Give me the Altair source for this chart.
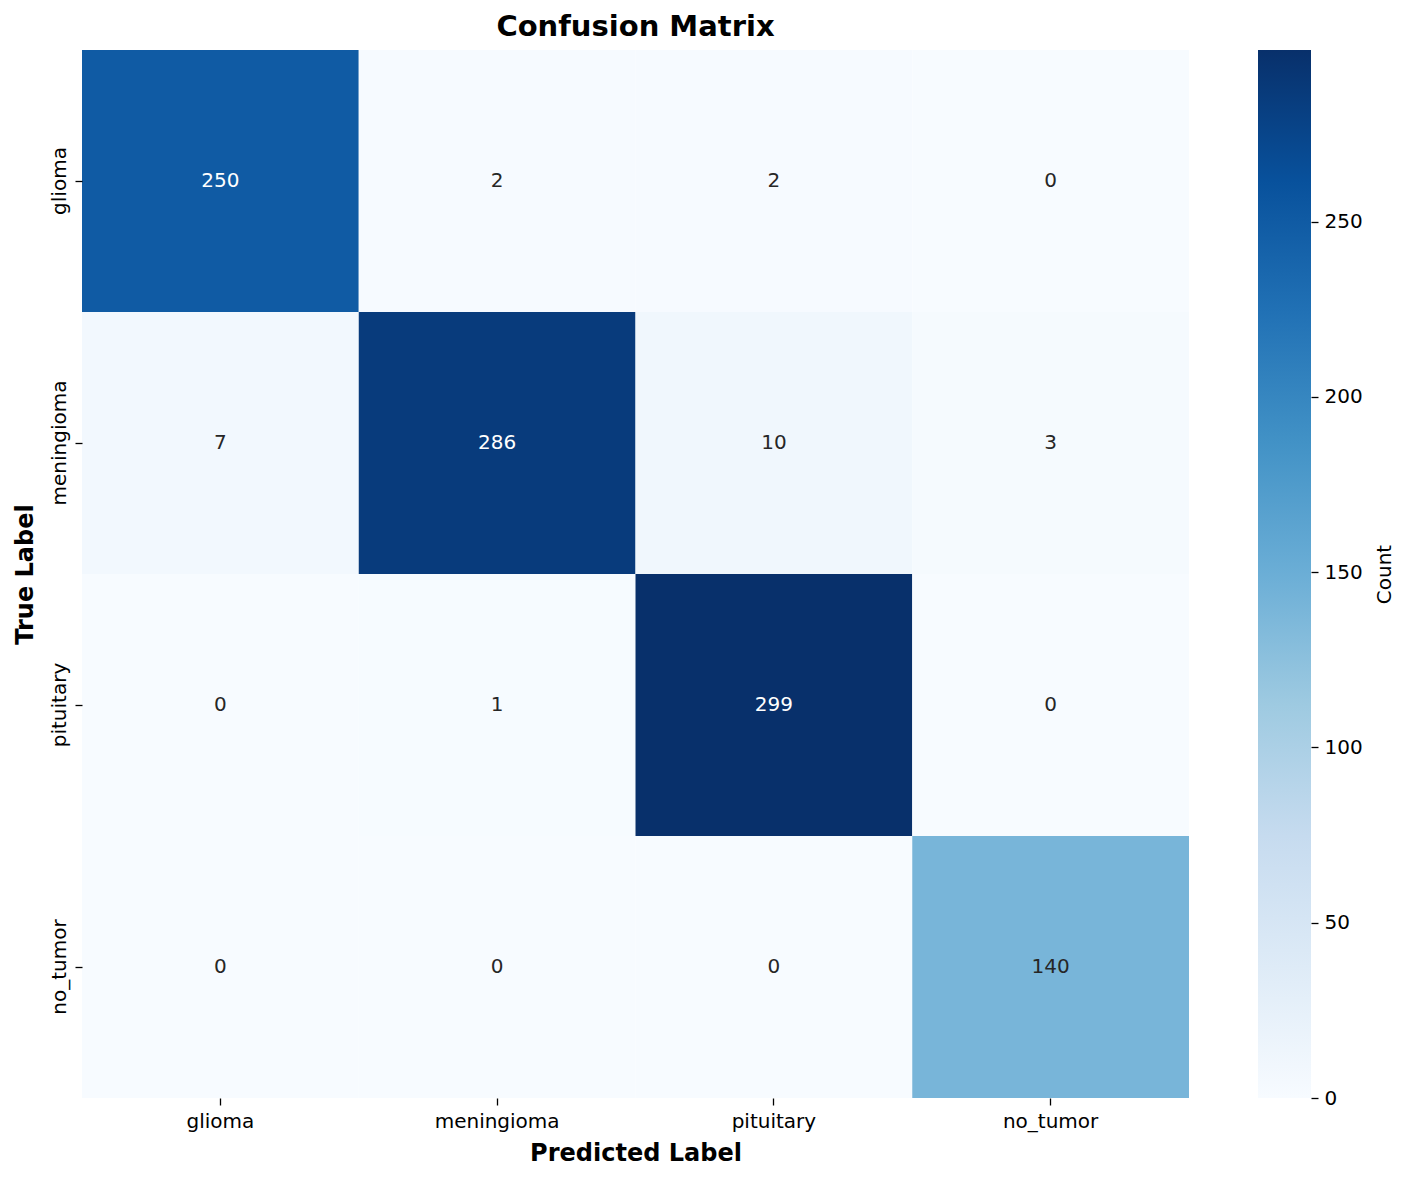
import altair as alt
import pandas as pd

classes = ["glioma", "meningioma", "pituitary", "no_tumor"]
true_labels = ["glioma"] * 4 + ["meningioma"] * 4 + ["pituitary"] * 4 + ["no_tumor"] * 4
pred_labels = classes * 4
counts = [250, 2, 2, 0,
          7, 286, 10, 3,
          0, 1, 299, 0,
          0, 0, 0, 140]
cbar_ticks = [0, 50, 100, 150, 200, 250]
vmax = 299

blues = ["#f7fbff", "#deebf7", "#c6dbef", "#9ecae1", "#6baed6",
         "#4292c6", "#2171b5", "#08519c", "#08306b"]
stops_dom = [vmax * i / 8 for i in range(9)]

df = pd.DataFrame({"True": true_labels, "Pred": pred_labels, "Count": counts})

FONT = "DejaVu Sans"
W, H = 1107, 1048

base = alt.Chart(df).encode(
    x=alt.X("Pred:N", sort=classes, title="Predicted Label",
            scale=alt.Scale(paddingInner=0, paddingOuter=0),
            axis=alt.Axis(labelAngle=0, domain=False, tickSize=7, tickWidth=1.3,
                          tickColor="#000000", labelColor="#000000", labelFontSize=20,
                          labelPadding=6, titleFontSize=24, titleFontWeight="bold",
                          titlePadding=10, titleColor="#000000")),
    y=alt.Y("True:N", sort=classes, title="True Label",
            scale=alt.Scale(paddingInner=0, paddingOuter=0),
            axis=alt.Axis(labelAngle=270, domain=False, tickSize=7, tickWidth=1.3,
                          tickColor="#000000", labelColor="#000000", labelFontSize=20,
                          labelPadding=6, titleFontSize=24, titleFontWeight="bold",
                          titlePadding=12, titleColor="#000000")),
)

rects = base.mark_rect().encode(
    color=alt.Color("Count:Q", legend=None,
                    scale=alt.Scale(domain=stops_dom, range=blues, interpolate="rgb"))
)

texts = base.mark_text(fontSize=20, font=FONT).encode(
    text=alt.Text("Count:Q"),
    color=alt.condition(alt.datum.Count > 200, alt.value("#ffffff"), alt.value("#262626")),
)

heat = alt.layer(rects, texts).properties(
    width=W, height=H,
    title=alt.TitleParams("Confusion Matrix", fontSize=29, fontWeight="bold",
                          font=FONT, color="#000000", offset=8, anchor="middle"),
)

grad = alt.Gradient(
    gradient="linear",
    stops=[alt.GradientStop(color=c, offset=i / 8) for i, c in enumerate(blues)],
    x1=0, x2=0, y1=1, y2=0,
)

cbar_df = pd.DataFrame({"lo": [0], "hi": [vmax]})
cbar = alt.Chart(cbar_df).mark_rect(color=grad).encode(
    y=alt.Y("lo:Q", scale=alt.Scale(domain=[0, vmax], nice=False, zero=True),
            axis=alt.Axis(orient="right", values=cbar_ticks, domain=False, grid=False,
                          tickSize=7, tickWidth=1.3, tickColor="#000000",
                          labelColor="#000000", labelFontSize=20, labelPadding=6,
                          title="Count", titleFontSize=20, titleFontWeight="normal",
                          titleColor="#000000", titlePadding=12, titleAngle=270,
                          titleBaseline="top")),
    y2="hi:Q",
    x=alt.value(0), x2=alt.value(53),
).properties(width=53, height=H)

chart = alt.hconcat(heat, cbar, spacing=69).properties(
    padding={"left": 13, "top": 13, "right": 5, "bottom": 5},
    background="#ffffff",
).configure(font=FONT).configure_view(stroke=None).configure_axis(
    labelFont=FONT, titleFont=FONT, grid=False
)

chart.save("out.html", embed_options={"renderer": "svg", "actions": False})
